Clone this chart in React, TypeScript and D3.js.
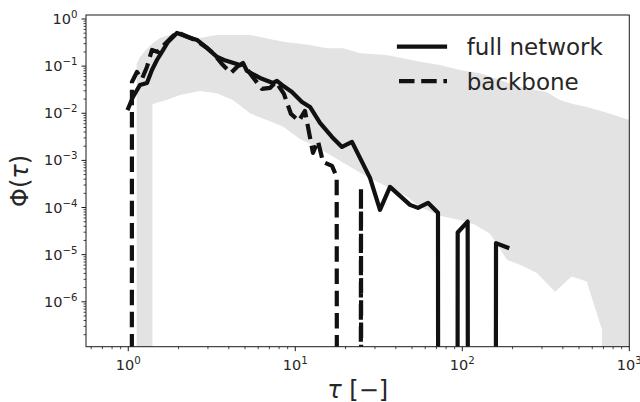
import { useEffect, useRef } from 'react';
import * as d3 from 'd3';

// full network: waiting time distribution (0 = empty bin)
const fullTau = [1.0, 1.067, 1.175, 1.294, 1.386, 1.485, 1.591, 1.729, 1.957, 2.278, 2.578, 2.96, 3.383, 3.742, 4.666, 4.862, 5.137, 6.146, 7.354, 7.769, 8.326, 9.555, 10.97, 12.25, 14.06, 16.59, 19.04, 21.85, 28.02, 32.15, 36.91, 48.63, 54.29, 62.33, 71.53, 82.2, 93.86, 107.7, 131.2, 159.2, 186.0];
const fullPhi = [0.0128, 0.0222, 0.0399, 0.044, 0.0829, 0.135, 0.2, 0.325, 0.505, 0.415, 0.359, 0.243, 0.159, 0.135, 0.106, 0.117, 0.079, 0.0561, 0.044, 0.0485, 0.0399, 0.0283, 0.0174, 0.0136, 0.00624, 0.00315, 0.00193, 0.00247, 0.000426, 0.0000893, 0.000274, 0.000114, 0.0000984, 0.000126, 0.0000771, 0, 0.0000295, 0.0000504, 0, 0.0000176, 0.0000142];

// backbone
const backboneTau = [1.0, 1.052, 1.127, 1.208, 1.294, 1.386, 1.506, 1.659, 1.827, 1.957, 2.278, 2.578, 2.96, 3.261, 3.64, 4.121, 4.539, 4.862, 5.504, 6.318, 7.056, 7.662, 8.556, 9.425, 10.52, 11.43, 12.76, 13.67, 14.65, 16.59, 17.7, 20.97, 24.74, 29.2];
const backbonePhi = [0, 0.0462, 0.0752, 0.0535, 0.096, 0.22, 0.2, 0.295, 0.415, 0.53, 0.415, 0.342, 0.243, 0.181, 0.111, 0.0716, 0.101, 0.111, 0.0619, 0.0328, 0.0345, 0.0462, 0.0257, 0.00968, 0.00688, 0.0112, 0.00144, 0.00259, 0.00093, 0.000765, 0.000447, 0, 0.000261, 0];

// grey envelope (null model range)
const bandUpperTau = [1.123, 1.175, 1.289, 1.406, 1.548, 1.777, 2.185, 2.688, 3.383, 5.354, 8.44, 12.25, 15.42, 19.39, 24.4, 35.27, 55.8, 73.5, 96.9, 127.6, 221.6, 320.2, 384.6, 460.2, 558.1, 735.5, 1000];
const bandUpperPhi = [0.111, 0.156, 0.231, 0.31, 0.396, 0.458, 0.436, 0.396, 0.458, 0.458, 0.33, 0.281, 0.239, 0.239, 0.187, 0.172, 0.124, 0.106, 0.0829, 0.0706, 0.0362, 0.0283, 0.0192, 0.0158, 0.0136, 0.0102, 0.00722];
const bandLowerTau = [1.123, 1.377, 1.396, 1.698, 2.04, 2.688, 3.383, 4.236, 5.354, 6.742, 8.44, 10.67, 13.43, 16.89, 21.26, 26.76, 35.27, 46.47, 55.8, 73.5, 101.4, 119.1, 146.5, 163.6, 185.2, 221.6, 280.1, 358.9, 451.9, 555.8, 686.4, 695.9, 1000];
const bandLowerPhi = [0, 0, 0.0158, 0.0192, 0.0245, 0.0298, 0.0266, 0.0192, 0.01, 0.00722, 0.00521, 0.00286, 0.00193, 0.00119, 0.000729, 0.000454, 0.000279, 0.000171, 0.000103, 0.0000666, 0.0000522, 0.0000429, 0.0000277, 0.0000154, 0.00000778, 0.00000609, 0.00000406, 0.00000163, 0.00000344, 0.0000027, 2.55e-7, 0, 0];

const xExponents = [0, 1, 2, 3];
const yExponents = [0, -1, -2, -3, -4, -5, -6];
const legendLabels = ['full network', 'backbone'];

const FONT = '"DejaVu Sans", sans-serif';
const INK = '#111111';
const TEXT = '#262626';

const App = () => {
  const svgRef = useRef<SVGSVGElement>(null);

  useEffect(() => {
    const svg = d3.select(svgRef.current);
    svg.selectAll('*').remove();

    const left = 86;
    const right = 629.3;
    const top = 15;
    const bottom = 346.7;

    const x = d3.scaleLog().domain([10 ** -0.253, 1000]).range([left, right]);
    const y = d3.scaleLog().domain([10 ** -6.953, 10 ** 0.085]).range([bottom, top]);
    // empty bins fall far below the axis, like matplotlib's log clipping
    const yv = (v: number) => y(v > 0 ? v : 1e-300);

    svg
      .append('defs')
      .append('clipPath')
      .attr('id', 'plot-clip')
      .append('rect')
      .attr('x', left)
      .attr('y', top)
      .attr('width', right - left)
      .attr('height', bottom - top);

    const plot = svg.append('g').attr('clip-path', 'url(#plot-clip)');

    // envelope
    const upper = bandUpperTau.map((t, i) => [x(t), yv(bandUpperPhi[i])]);
    const lower = bandLowerTau.map((t, i) => [x(t), yv(bandLowerPhi[i])]).reverse();
    plot
      .append('path')
      .attr('d', d3.line()([...upper, ...lower] as [number, number][]) + 'Z')
      .attr('fill', '#e3e3e3')
      .attr('stroke', 'none');

    const line = d3
      .line<[number, number]>()
      .x((d) => x(d[0]))
      .y((d) => yv(d[1]));

    plot
      .append('path')
      .attr('d', line(fullTau.map((t, i) => [t, fullPhi[i]])))
      .attr('fill', 'none')
      .attr('stroke', INK)
      .attr('stroke-width', 4.2)
      .attr('stroke-linejoin', 'round')
      .attr('stroke-linecap', 'square');

    plot
      .append('path')
      .attr('d', line(backboneTau.map((t, i) => [t, backbonePhi[i]])))
      .attr('fill', 'none')
      .attr('stroke', INK)
      .attr('stroke-width', 4.2)
      .attr('stroke-dasharray', '15.5,6.7')
      .attr('stroke-linejoin', 'round')
      .attr('stroke-linecap', 'butt');

    // frame
    svg
      .append('rect')
      .attr('x', left)
      .attr('y', top)
      .attr('width', right - left)
      .attr('height', bottom - top)
      .attr('fill', 'none')
      .attr('stroke', '#1a1a1a')
      .attr('stroke-width', 1);

    // ticks, majors and minors
    const xd = x.domain();
    const yd = y.domain();
    const ticks = svg.append('g').attr('stroke', '#1a1a1a');
    for (let e = -1; e <= 3; e++) {
      for (let m = 1; m <= 9; m++) {
        const v = m * 10 ** e;
        if (v < xd[0] * 0.999 || v > xd[1] * 1.001) continue;
        const len = m === 1 ? 4.5 : 2.5;
        ticks
          .append('line')
          .attr('x1', x(v))
          .attr('x2', x(v))
          .attr('y1', bottom)
          .attr('y2', bottom + len)
          .attr('stroke-width', m === 1 ? 1 : 0.8);
      }
    }
    for (let e = -7; e <= 0; e++) {
      for (let m = 1; m <= 9; m++) {
        const v = m * 10 ** e;
        if (v < yd[0] || v > yd[1]) continue;
        const len = m === 1 ? 4.5 : 2.5;
        ticks
          .append('line')
          .attr('x1', left - len)
          .attr('x2', left)
          .attr('y1', y(v))
          .attr('y2', y(v))
          .attr('stroke-width', m === 1 ? 1 : 0.8);
      }
    }

    const sup = (e: number) => (e < 0 ? `\u2212${-e}` : `${e}`);

    const xLabels = svg.append('g').attr('font-family', FONT).attr('font-size', 14.5).attr('fill', TEXT);
    xExponents.forEach((e) => {
      const t = xLabels
        .append('text')
        .attr('x', x(10 ** e))
        .attr('y', 370)
        .attr('text-anchor', 'middle');
      t.append('tspan').text('10');
      t.append('tspan').attr('dy', -6).attr('font-size', 10.2).text(sup(e));
    });

    const yLabels = svg.append('g').attr('font-family', FONT).attr('font-size', 14.5).attr('fill', TEXT);
    yExponents.forEach((e) => {
      const t = yLabels
        .append('text')
        .attr('x', 77.5)
        .attr('y', y(10 ** e) + 5)
        .attr('text-anchor', 'end');
      t.append('tspan').text('10');
      t.append('tspan').attr('dy', -6).attr('font-size', 10.2).text(sup(e));
    });

    // axis titles
    const xt = svg
      .append('text')
      .attr('x', (left + right) / 2)
      .attr('y', 398)
      .attr('text-anchor', 'middle')
      .attr('font-family', FONT)
      .attr('font-size', 24)
      .attr('fill', TEXT);
    xt.append('tspan').attr('font-style', 'italic').text('\u03c4');
    xt.append('tspan').text(' [\u2212]');

    const yt = svg
      .append('text')
      .attr('transform', `translate(28,${(top + bottom) / 2}) rotate(-90)`)
      .attr('text-anchor', 'middle')
      .attr('font-family', FONT)
      .attr('font-size', 24)
      .attr('fill', TEXT);
    yt.append('tspan').text('\u03a6(');
    yt.append('tspan').attr('font-style', 'italic').text('\u03c4');
    yt.append('tspan').text(')');

    // legend
    const legend = svg.append('g').attr('font-family', FONT).attr('font-size', 23).attr('fill', TEXT);
    legendLabels.forEach((label, i) => {
      const ly = 46.7 + i * 34.5;
      legend
        .append('line')
        .attr('x1', i === 0 ? 399 : 399)
        .attr('x2', i === 0 ? 445 : 447)
        .attr('y1', ly)
        .attr('y2', ly)
        .attr('stroke', INK)
        .attr('stroke-width', 4.2)
        .attr('stroke-linecap', i === 0 ? 'square' : 'butt')
        .attr('stroke-dasharray', i === 0 ? null : '15.5,6.7');
      legend
        .append('text')
        .attr('x', 466.7)
        .attr('y', ly + 8.5)
        .text(label);
    });
  }, []);

  return (
    <svg
      ref={svgRef}
      width={640}
      height={402}
      style={{ position: 'absolute', left: 0, top: 0, background: '#fff' }}
    />
  );
};

export default App;
